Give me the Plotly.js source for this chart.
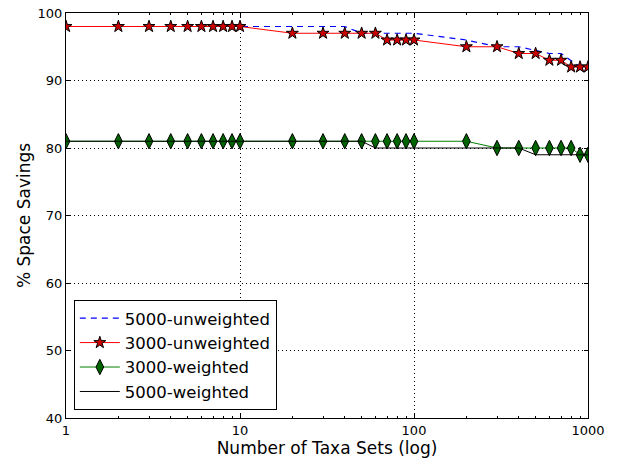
<!DOCTYPE html>
<html>
<head>
<meta charset="utf-8">
<script src="https://cdn.plot.ly/plotly-3.0.1.min.js"></script>
<style>html,body{margin:0;padding:0;background:#fff;}#chart{width:620px;height:460px;}</style>
</head>
<body>
<div id="chart"></div>
<script>
// Number of taxa sets (x, log scale)
const taxaSets = [1,2,3,4,5,6,7,8,9,10,20,30,40,50,60,70,80,90,100,200,300,400,500,600,700,800,900,1000];
// % space savings per series
const unweighted5000 = [98,98,98,98,98,98,98,98,98,98,98,98,98,97,97,97,97,97,97,96,95,95,94.5,94,94,93,92,92];
const unweighted3000 = [98,98,98,98,98,98,98,98,98,98,97,97,97,97,97,96,96,96,96,95,95,94,94,93,93,92,92,92];
const weighted3000   = [81,81,81,81,81,81,81,81,81,81,81,81,81,81,81,81,81,81,81,81,80,80,80,80,80,80,79,79];
const weighted5000   = [81,81,81,81,81,81,81,81,81,81,81,81,81,81,80,80,80,80,80,80,80,80,79,79,79,79,79,79];
const seriesNames = ['5000-unweighted','3000-unweighted','3000-weighted','5000-weighted'];
const xTickVals = [1,10,100,1000];
const xTickText = ['1','10','100','1000'];
const xMinorVals = [2,3,4,5,6,7,8,9,20,30,40,50,60,70,80,90,200,300,400,500,600,700,800,900];
const yTickVals = [40,50,60,70,80,90,100];

const traces = [
  {x: taxaSets, y: unweighted5000, name: seriesNames[0], mode: 'lines',
   line: {color: '#0000ff', width: 1.2, dash: '6px,5px'}},
  {x: taxaSets, y: unweighted3000, name: seriesNames[1], mode: 'lines+markers',
   line: {color: '#ff0000', width: 1},
   marker: {symbol: 'star', size: 9, color: '#cc0000', line: {color: '#000', width: 1}}},
  {x: taxaSets, y: weighted3000, name: seriesNames[2], mode: 'lines+markers',
   line: {color: '#008000', width: 1},
   marker: {symbol: 'diamond-tall', size: 11, color: '#006400', line: {color: '#000', width: 1}}},
  {x: taxaSets, y: weighted5000, name: seriesNames[3], mode: 'lines',
   line: {color: '#000000', width: 1}}
];

const fontFam = 'DejaVu Sans, sans-serif';
const axisCommon = {
  showline: true, linecolor: '#000', linewidth: 1, mirror: 'ticks',
  ticks: 'inside', ticklen: 4, tickcolor: '#000', tickwidth: 1,
  showgrid: true, gridcolor: '#000', gridwidth: 1, griddash: '1px,3px',
  zeroline: false, tickfont: {family: fontFam, size: 13, color: '#000'}
};

const layout = {
  width: 620, height: 460,
  margin: {l: 66, r: 32, t: 13, b: 42},
  paper_bgcolor: '#fff', plot_bgcolor: '#fff',
  font: {family: fontFam, color: '#000'},
  xaxis: Object.assign({}, axisCommon, {
    type: 'log', range: [0, 3], tickmode: 'array', tickvals: xTickVals, ticktext: xTickText,
    minor: {tickmode: 'array', tickvals: xMinorVals, ticks: 'inside', ticklen: 2, tickcolor: '#000', showgrid: false},
    title: {text: 'Number of Taxa Sets (log)', font: {family: fontFam, size: 17, color: '#000'}, standoff: 2}
  }),
  yaxis: Object.assign({}, axisCommon, {
    range: [40, 100], tickmode: 'array', tickvals: yTickVals,
    title: {text: '% Space Savings', font: {family: fontFam, size: 17, color: '#000'}, standoff: 2}
  }),
  legend: {
    x: 0.015, y: 0.02, xanchor: 'left', yanchor: 'bottom',
    bgcolor: '#fff', bordercolor: '#000', borderwidth: 1,
    font: {family: fontFam, size: 16.5, color: '#000'},
    itemwidth: 40,
    traceorder: 'normal'
  },
  showlegend: true
};

Plotly.newPlot('chart', traces, layout, {displayModeBar: false, staticPlot: true});
</script>
</body>
</html>
